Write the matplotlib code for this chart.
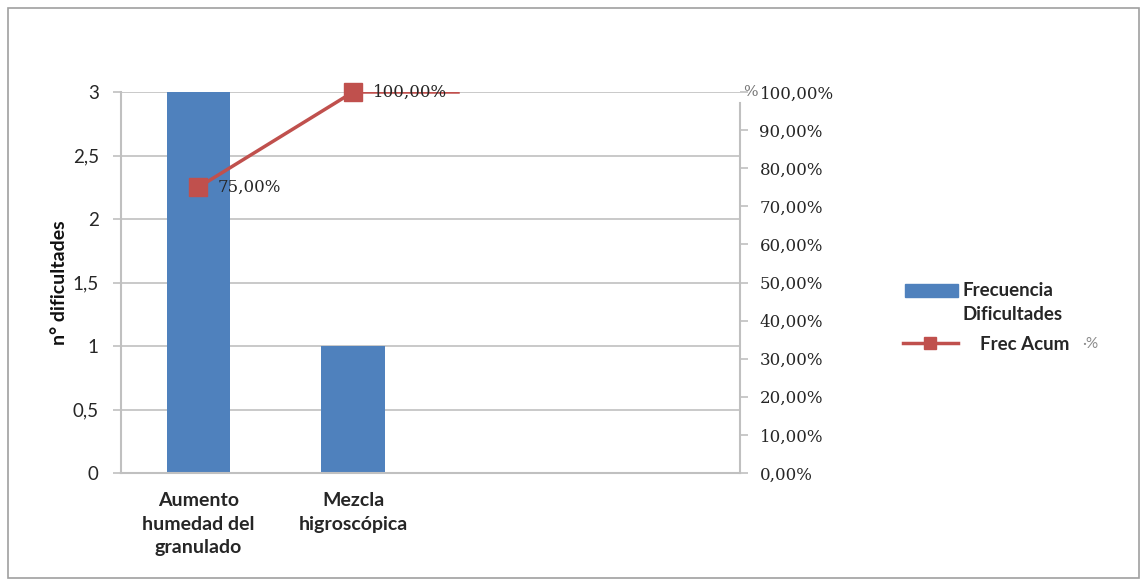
import matplotlib
matplotlib.use("Agg")
import matplotlib.pyplot as plt
from matplotlib.patches import Rectangle
from matplotlib.lines import Line2D
from matplotlib.ticker import FuncFormatter

categories = ["Aumento\nhumedad del\ngranulado", "Mezcla\nhigroscópica", "", ""]
frecuencia = [3, 1]
frec_acum = [75.0, 100.0]
left_ticks = [0, 0.5, 1, 1.5, 2, 2.5, 3]
right_ticks = [0, 10, 20, 30, 40, 50, 60, 70, 80, 90, 100]
series_names = ["Frecuencia\nDificultades", "Frec Acum"]

BLUE = "#4f81bd"
RED = "#c0504d"
GRID = "#c0c0c0"
TXT = "#262626"
SANS = ["Lato", "DejaVu Sans"]
SERIF = ["DejaVu Serif"]
W, H = 1145, 581

fig = plt.figure(figsize=(W / 100, H / 100), dpi=100)
fig.patches.append(Rectangle((0.007, 0.005), 0.988, 0.982, transform=fig.transFigure,
                             fill=False, edgecolor="#a0a0a0", linewidth=1.2))

ax = fig.add_axes([121 / W, 1 - 473 / H, (740 - 121) / W, (473 - 92) / H])
ax2 = ax.twinx()

x = list(range(len(categories)))
ax.bar(x[:len(frecuencia)], frecuencia, width=0.41, color=BLUE, zorder=2)
ax.set_xlim(-0.5, len(categories) - 0.5)
ax.set_ylim(0, 3)
ax.set_yticks(left_ticks)
ax.set_yticklabels([f"{t:g}".replace(".", ",") for t in left_ticks], fontfamily=SANS, fontsize=13.5, color=TXT)
ax.yaxis.grid(True, color=GRID, linewidth=1.2, zorder=0)
ax.set_axisbelow(True)
ax.set_xticks(x)
ax.set_xticklabels(categories, fontfamily=SANS, fontsize=14, fontweight="bold", color=TXT, linespacing=1.45)
ax.tick_params(axis="x", length=0, pad=14)
ax.tick_params(axis="y", length=6, width=1.2, color=GRID, pad=10)
ax.set_ylabel("n° dificultades", fontfamily=SANS, fontsize=14, fontweight="bold", labelpad=3, color="#111111")
for side in ["top", "right"]:
    ax.spines[side].set_visible(False)
ax.spines["left"].set_color(GRID)
ax.spines["left"].set_linewidth(1.5)
ax.spines["bottom"].set_color(GRID)
ax.spines["bottom"].set_linewidth(1.5)

ax2.set_ylim(0, 100)
ax2.set_yticks(right_ticks)
ax2.yaxis.set_major_formatter(FuncFormatter(lambda v, p: f"{v:.2f}%".replace(".", ",")))
for lab in ax2.get_yticklabels():
    lab.set_fontfamily(SERIF)
ax2.tick_params(axis="y", length=6, width=1.2, color=GRID, pad=8, labelsize=12, labelcolor=TXT)
for side in ["top", "left", "bottom"]:
    ax2.spines[side].set_visible(False)
ax2.spines["right"].set_color(GRID)
ax2.spines["right"].set_linewidth(1.5)
ax2.spines["right"].set_bounds(0, 97)

line_x = x[:len(frec_acum)]
ax2.plot(line_x, frec_acum, color=RED, linewidth=2.5, marker="s", markersize=13, zorder=5, clip_on=False)
ax2.plot([line_x[-1], line_x[-1] + 0.68], [frec_acum[-1], frec_acum[-1]], color=RED, linewidth=1.8, zorder=4)
for xi, v in zip(line_x, frec_acum):
    ax2.annotate(f"{v:.2f}%".replace(".", ","), (xi, v), xytext=(14, 0), textcoords="offset points",
                 va="center", ha="left", fontfamily=SERIF, fontsize=12, color=TXT, zorder=6)
ax2.text(1.005, 100, "%", transform=ax2.get_yaxis_transform(), va="center", ha="left",
         fontfamily=SERIF, fontsize=11, color="#777777")

# legend drawn by hand so the swatch sits beside the first text line
def fx(px):
    return px / W

def fy(py):
    return 1 - py / H

fig.patches.append(Rectangle((fx(905), fy(297)), fx(958) - fx(905), fy(284) - fy(297),
                             transform=fig.transFigure, color=BLUE))
fig.text(fx(962), fy(302.5), series_names[0], transform=fig.transFigure, ha="left", va="center",
         fontfamily=SANS, fontsize=13.5, fontweight="bold", color=TXT, linespacing=1.55)
fig.lines.append(Line2D([fx(903), fx(958)], [fy(343), fy(343)], transform=fig.transFigure,
                        color=RED, linewidth=2.5))
fig.lines.append(Line2D([fx(930)], [fy(343)], transform=fig.transFigure, color=RED,
                        marker="s", markersize=8, linestyle="none"))
fig.text(fx(980), fy(344), series_names[1], transform=fig.transFigure, ha="left", va="center",
         fontfamily=SANS, fontsize=13.5, fontweight="bold", color=TXT)
fig.text(fx(1082), fy(344), "·%", transform=fig.transFigure, ha="left", va="center",
         fontfamily=SANS, fontsize=11, color="#8a8a8a")

fig.savefig("out.png", dpi=100)
